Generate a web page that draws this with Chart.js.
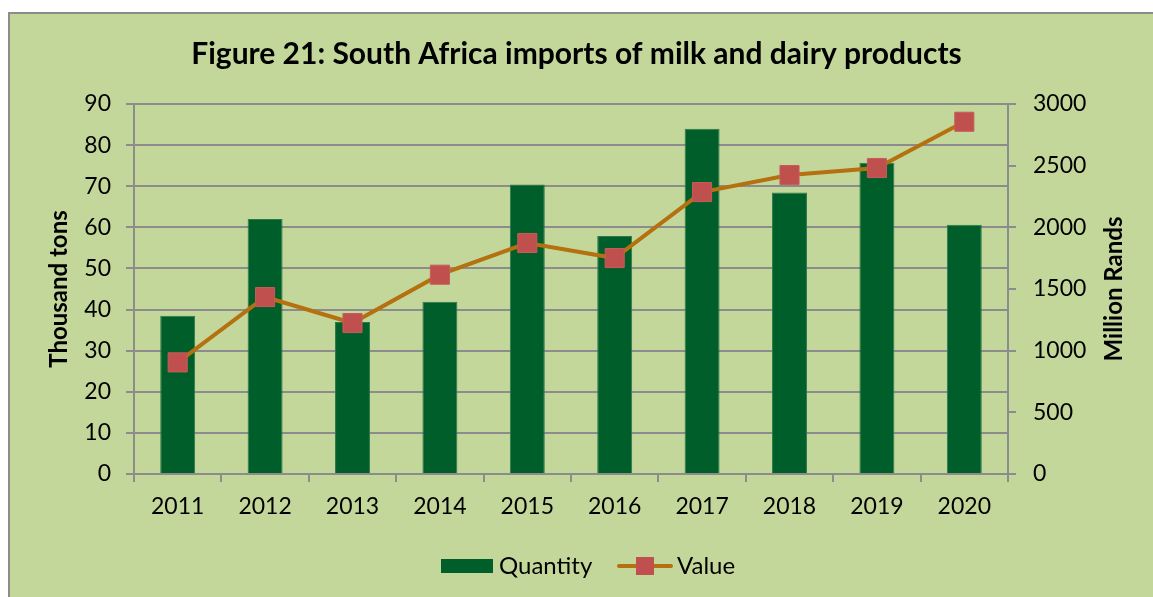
<!DOCTYPE html>
<html>
<head>
<meta charset="utf-8">
<title>South Africa imports of milk and dairy products</title>
<script src="https://cdn.jsdelivr.net/npm/chart.js@4.4.0/dist/chart.umd.min.js"></script>
<style>
  html, body { margin: 0; padding: 0; background: #fff; }
  #wrap { width: 1153px; height: 597px; }
</style>
</head>
<body>
<div id="wrap"><canvas id="myChart" width="1153" height="597"></canvas></div>
<script>
// data
var years = ['2011', '2012', '2013', '2014', '2015', '2016', '2017', '2018', '2019', '2020'];
var quantity = [38.5, 62.0, 37.0, 41.9, 70.4, 57.9, 84.0, 68.5, 75.7, 60.6];   // thousand tons
var value = [905, 1435, 1224, 1616, 1873, 1751, 2286, 2424, 2481, 2856];        // million rands
var leftTicks = [0, 10, 20, 30, 40, 50, 60, 70, 80, 90];
var rightTicks = [0, 500, 1000, 1500, 2000, 2500, 3000];

var titleText = 'Figure 21: South Africa imports of milk and dairy products';
var leftTitle = 'Thousand tons';
var rightTitle = 'Million Rands';

var FONT = 'Lato, "Open Sans", sans-serif';
var GRID = '#8c8c8c';
var BAR = '#005E2A';
var LINE = '#B5700F';
var MARK = '#C0504D';
var BG = '#C4D79B';

// green panel with the grey border at top/left
var background = {
  id: 'background',
  beforeDraw: function (chart) {
    var ctx = chart.ctx;
    ctx.save();
    ctx.fillStyle = '#fff';
    ctx.fillRect(0, 0, chart.width, chart.height);
    ctx.fillStyle = BG;
    ctx.fillRect(8, 12, chart.width - 8, chart.height - 12);
    ctx.strokeStyle = GRID;
    ctx.lineWidth = 2;
    ctx.beginPath();
    ctx.moveTo(9, chart.height);
    ctx.lineTo(9, 13);
    ctx.lineTo(chart.width, 13);
    ctx.stroke();
    ctx.restore();
  }
};

// right axis title reads bottom to top, legend with line+marker symbol
var extras = {
  id: 'extras',
  afterDraw: function (chart) {
    var ctx = chart.ctx;
    var area = chart.chartArea;
    ctx.save();
    ctx.fillStyle = '#000';
    ctx.font = 'bold 24px ' + FONT;
    ctx.textAlign = 'center';
    ctx.textBaseline = 'middle';
    ctx.translate(1114, (area.top + area.bottom) / 2);
    ctx.rotate(-Math.PI / 2);
    ctx.fillText(rightTitle, 0, 0);
    ctx.restore();

    var ds = chart.data.datasets;
    var y = 566;
    ctx.save();
    ctx.font = '24px ' + FONT;
    ctx.textBaseline = 'middle';
    ctx.textAlign = 'left';
    var x = 441;
    ctx.fillStyle = ds[1].backgroundColor;
    ctx.fillRect(x, y - 7, 52, 14);
    ctx.fillStyle = '#000';
    ctx.fillText(ds[1].label, x + 58, y);

    x = 617;
    ctx.strokeStyle = ds[0].borderColor;
    ctx.lineWidth = 4;
    ctx.lineCap = 'round';
    ctx.beginPath();
    ctx.moveTo(x + 2, y);
    ctx.lineTo(x + 54, y);
    ctx.stroke();
    ctx.fillStyle = MARK;
    ctx.fillRect(x + 19, y - 9, 18, 18);
    ctx.fillStyle = '#000';
    ctx.fillText(ds[0].label, x + 60, y);
    ctx.restore();
  }
};

var ctx = document.getElementById('myChart');

var chart = new Chart(ctx, {
  type: 'bar',
  data: {
    labels: years,
    datasets: [
      {
        type: 'line',
        label: 'Value',
        data: value,
        yAxisID: 'y2',
        borderColor: LINE,
        borderWidth: 4,
        tension: 0,
        pointStyle: 'rect',
        pointRadius: 13.5,
        pointBackgroundColor: MARK,
        pointBorderColor: '#c65c59',
        pointBorderWidth: 1,
        order: 1
      },
      {
        type: 'bar',
        label: 'Quantity',
        data: quantity,
        yAxisID: 'y',
        backgroundColor: BAR,
        borderColor: '#2c7a4a',
        borderWidth: 1,
        barPercentage: 0.4,
        categoryPercentage: 1,
        order: 2
      }
    ]
  },
  options: {
    responsive: false,
    animation: false,
    layout: { padding: 0 },
    plugins: {
      legend: { display: false },
      tooltip: { enabled: false },
      title: {
        display: true,
        text: titleText,
        color: '#000',
        font: { family: FONT, size: 30, weight: 'bold' },
        padding: { top: 36, bottom: 32 }
      }
    },
    scales: {
      x: {
        offset: true,
        grid: { offset: true, drawOnChartArea: false, color: GRID, lineWidth: 2, tickLength: 8 },
        border: { display: true, color: GRID, width: 2 },
        ticks: { color: '#000', font: { family: FONT, size: 23 }, padding: 11 },
        afterFit: function (scale) { scale.height = 597 - 474; }
      },
      y: {
        position: 'left',
        min: 0,
        max: 90,
        afterBuildTicks: function (scale) { scale.ticks = leftTicks.map(function (v) { return { value: v }; }); },
        grid: { color: GRID, lineWidth: 2, tickLength: 8 },
        border: { display: true, color: GRID, width: 2 },
        ticks: { color: '#000', font: { family: FONT, size: 23 }, padding: 15 },
        title: {
          display: true,
          text: leftTitle,
          color: '#000',
          font: { family: FONT, size: 24, weight: 'bold' },
          padding: { top: 45, bottom: 0 }
        },
        afterFit: function (scale) { scale.width = 134; }
      },
      y2: {
        position: 'right',
        min: 0,
        max: 3000,
        afterBuildTicks: function (scale) { scale.ticks = rightTicks.map(function (v) { return { value: v }; }); },
        grid: { drawOnChartArea: false, color: GRID, lineWidth: 2, tickLength: 8 },
        border: { display: true, color: GRID, width: 2 },
        ticks: {
          color: '#000',
          font: { family: FONT, size: 23 },
          padding: 17,
          callback: function (v) { return String(v); }
        },
        afterFit: function (scale) { scale.width = 1153 - 1008; }
      }
    }
  },
  plugins: [background, extras]
});
</script>
</body>
</html>
